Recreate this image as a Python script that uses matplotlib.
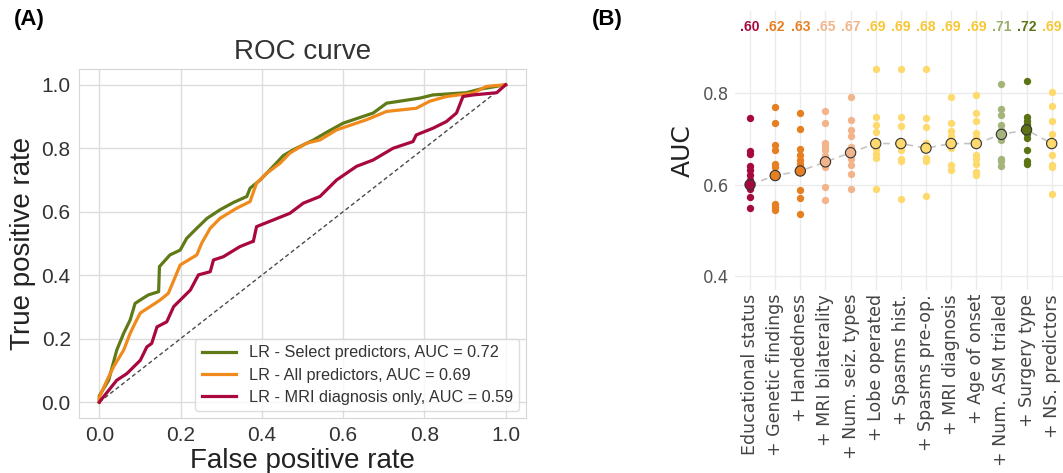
import matplotlib.pyplot as plt

plt.rcParams['font.family'] = ['Liberation Sans', 'DejaVu Sans']

# ---- panel A data: ROC curves (fpr, tpr) ----
roc_labels = ["LR - Select predictors, AUC = 0.72",
              "LR - All predictors, AUC = 0.69",
              "LR - MRI diagnosis only, AUC = 0.59"]
roc_colors = ["#5f7a16", "#f08a1c", "#a8083f"]

fpr_select = [0.0, 0.0, 0.023, 0.043, 0.060, 0.076, 0.088, 0.101, 0.121, 0.146, 0.148, 0.174,
              0.199, 0.215, 0.240, 0.265, 0.297, 0.330, 0.363, 0.371, 0.396, 0.420, 0.453,
              0.477, 0.527, 0.559, 0.600, 0.674, 0.707, 0.789, 0.821, 0.903, 0.936, 1.0]
tpr_select = [0.0, 0.02, 0.069, 0.164, 0.217, 0.259, 0.311, 0.322, 0.338, 0.348, 0.427, 0.464,
              0.479, 0.516, 0.548, 0.579, 0.606, 0.629, 0.648, 0.674, 0.700, 0.732, 0.777,
              0.795, 0.826, 0.850, 0.879, 0.911, 0.942, 0.958, 0.968, 0.975, 0.986, 1.0]

fpr_all = [0.0, 0.0, 0.019, 0.035, 0.060, 0.076, 0.088, 0.101, 0.125, 0.150, 0.170, 0.187,
           0.199, 0.240, 0.252, 0.273, 0.297, 0.338, 0.371, 0.387, 0.412, 0.445, 0.469,
           0.510, 0.543, 0.584, 0.658, 0.707, 0.780, 0.813, 0.854, 0.920, 0.953, 1.0]
tpr_all = [0.0, 0.015, 0.069, 0.111, 0.164, 0.217, 0.249, 0.281, 0.301, 0.322, 0.343, 0.395,
           0.432, 0.464, 0.501, 0.548, 0.579, 0.611, 0.632, 0.690, 0.721, 0.753, 0.785,
           0.816, 0.826, 0.858, 0.890, 0.916, 0.926, 0.948, 0.963, 0.974, 0.995, 1.0]

fpr_mri = [0.0, 0.043, 0.068, 0.101, 0.117, 0.129, 0.142, 0.166, 0.183, 0.224, 0.244, 0.273,
           0.281, 0.305, 0.346, 0.375, 0.379, 0.387, 0.428, 0.469, 0.502, 0.543, 0.584,
           0.633, 0.674, 0.723, 0.772, 0.780, 0.821, 0.854, 0.879, 0.895, 0.920, 0.978, 1.0]
tpr_mri = [0.0, 0.069, 0.090, 0.132, 0.174, 0.185, 0.237, 0.253, 0.301, 0.353, 0.401, 0.411,
           0.448, 0.458, 0.490, 0.505, 0.506, 0.553, 0.574, 0.595, 0.627, 0.648, 0.700,
           0.743, 0.763, 0.800, 0.821, 0.842, 0.863, 0.884, 0.911, 0.963, 0.968, 0.975, 1.0]

# ---- panel B data: AUC per added predictor ----
steps = ["Educational status", "+ Genetic findings", "+ Handedness", "+ MRI bilaterality",
         "+ Num. seiz. types", "+ Lobe operated", "+ Spasms hist.", "+ Spasms pre-op.",
         "+ MRI diagnosis", "+ Age of onset", "+ Num. ASM trialed", "+ Surgery type",
         "+ NS. predictors"]
overall_auc = [0.60, 0.62, 0.63, 0.65, 0.67, 0.69, 0.69, 0.68, 0.69, 0.69, 0.71, 0.72, 0.69]
auc_text = [".60", ".62", ".63", ".65", ".67", ".69", ".69", ".68", ".69", ".69", ".71", ".72", ".69"]
fold_auc = [
    [0.746, 0.673, 0.667, 0.641, 0.632, 0.621, 0.610, 0.590, 0.573, 0.550],
    [0.769, 0.736, 0.687, 0.675, 0.646, 0.638, 0.558, 0.551, 0.544],
    [0.757, 0.722, 0.678, 0.666, 0.655, 0.646, 0.589, 0.571, 0.537],
    [0.762, 0.735, 0.692, 0.684, 0.676, 0.662, 0.639, 0.594, 0.566],
    [0.792, 0.742, 0.719, 0.707, 0.682, 0.656, 0.644, 0.623, 0.591],
    [0.853, 0.747, 0.730, 0.715, 0.678, 0.668, 0.658, 0.591],
    [0.853, 0.749, 0.729, 0.676, 0.656, 0.651, 0.569],
    [0.854, 0.746, 0.726, 0.692, 0.658, 0.651, 0.576],
    [0.792, 0.736, 0.717, 0.707, 0.698, 0.680, 0.644, 0.633],
    [0.797, 0.757, 0.740, 0.713, 0.702, 0.666, 0.656, 0.646, 0.628, 0.622],
    [0.821, 0.765, 0.753, 0.730, 0.720, 0.698, 0.656, 0.651, 0.640],
    [0.826, 0.747, 0.740, 0.733, 0.711, 0.702, 0.676, 0.651, 0.645],
    [0.803, 0.773, 0.740, 0.711, 0.666, 0.644, 0.639, 0.580],
]
point_colors = ["#a6093d", "#e67e22", "#e67e22", "#f2b48a", "#f2b48a", "#fdd96e", "#fdd96e",
                "#fdd96e", "#fdd96e", "#fdd96e", "#a4b47a", "#5b7314", "#fdd96e"]
text_colors = ["#a6093d", "#e67e22", "#e67e22", "#f2b48a", "#f2b48a", "#f7c631", "#f7c631",
               "#f7c631", "#f7c631", "#f7c631", "#9aad6a", "#5b7314", "#f7c631"]

fig = plt.figure(figsize=(10.63, 4.73), dpi=100)

# ---------------- (A) ROC curve ----------------
ax = fig.add_axes([0.0743, 0.1163, 0.4205, 0.738])
ax.set_facecolor("white")
ax.grid(True, color="#dcdcdc", linewidth=1.0)
ax.set_axisbelow(True)
for s in ax.spines.values():
    s.set_color("#d6d6d6")
ax.plot([0, 1], [0, 1], linestyle=(0, (3, 2)), color="#4a4a4a", linewidth=1.0)
ax.plot(fpr_select, tpr_select, color=roc_colors[0], linewidth=2.3, label=roc_labels[0])
ax.plot(fpr_all, tpr_all, color=roc_colors[1], linewidth=2.3, label=roc_labels[1])
ax.plot(fpr_mri, tpr_mri, color=roc_colors[2], linewidth=2.3, label=roc_labels[2])
ax.set_xlim(-0.05, 1.05)
ax.set_ylim(-0.05, 1.05)
ax.set_xticks([0, 0.2, 0.4, 0.6, 0.8, 1.0])
ax.set_yticks([0, 0.2, 0.4, 0.6, 0.8, 1.0])
ax.tick_params(labelsize=15, colors="#333333", length=0, pad=6)
ax.set_xlabel("False positive rate", fontsize=20, color="#222222", labelpad=2)
ax.set_ylabel("True positive rate", fontsize=20, color="#222222", labelpad=4)
ax.set_title("ROC curve", fontsize=20, color="#333333", pad=7)
leg = ax.legend(loc="lower right", fontsize=11.7, frameon=True, handlelength=2.1,
                borderaxespad=0.4, labelspacing=0.45)
leg.get_frame().set_edgecolor("#d6d6d6")
for t in leg.get_texts():
    t.set_color("#333333")

# ---------------- (B) AUC by added predictor ----------------
bx = fig.add_axes([0.6914, 0.387, 0.3086, 0.59])
xs = list(range(len(steps)))
bx.grid(True, color="#ebebeb", linewidth=1.0)
bx.set_axisbelow(True)
for s in bx.spines.values():
    s.set_visible(False)
for i, vals in enumerate(fold_auc):
    bx.scatter([i] * len(vals), vals, s=28, color=point_colors[i], linewidths=0, zorder=2)
bx.plot(xs, overall_auc, linestyle=(0, (4, 3)), color="#c4c4c4", linewidth=1.2, zorder=3)
bx.scatter(xs, overall_auc, s=55, c=point_colors, edgecolors="#333333", linewidths=0.8, zorder=4)
for i, t in enumerate(auc_text):
    bx.text(i, 0.945, t, ha="center", va="center", fontsize=10, fontweight="bold",
            color=text_colors[i], family="Liberation Sans")
bx.set_xlim(-0.6, 12.45)
bx.set_ylim(0.37, 0.98)
bx.set_yticks([0.4, 0.6, 0.8])
bx.set_xticks(xs)
bx.set_xticklabels(steps, rotation=90, family="DejaVu Sans")
bx.tick_params(axis="x", labelsize=12.5, colors="#444444", length=0, pad=3)
bx.tick_params(axis="y", labelsize=12, colors="#555555", length=0, pad=4)
for lab in bx.get_yticklabels():
    lab.set_family("DejaVu Sans")
bx.set_ylabel("AUC", fontsize=18, family="DejaVu Sans", color="#222222", labelpad=6)

fig.text(0.013, 0.958, "(A)", fontsize=16, fontweight="bold", va="center", ha="left")
fig.text(0.557, 0.958, "(B)", fontsize=16, fontweight="bold", va="center", ha="left")

fig.savefig("out.png", dpi=100)
